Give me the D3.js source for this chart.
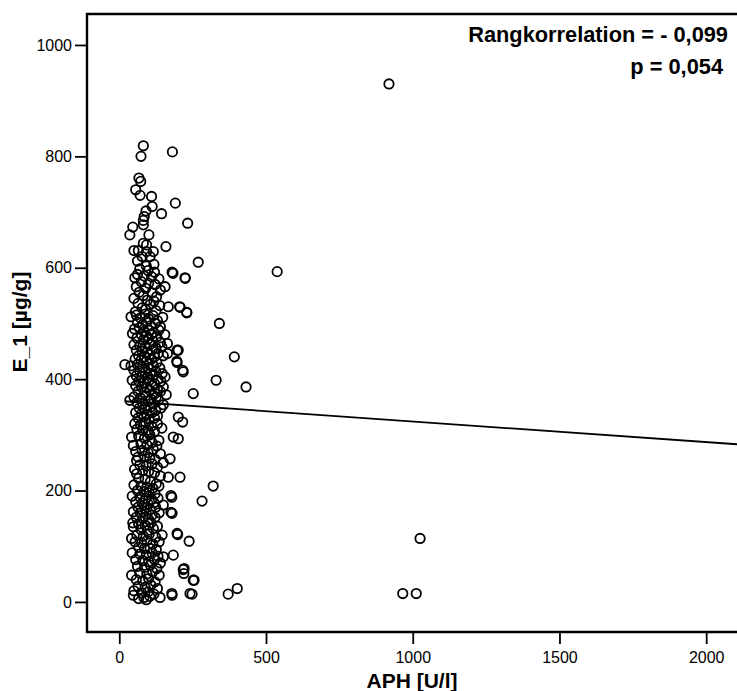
<!DOCTYPE html>
<html>
<head>
<meta charset="utf-8">
<script src="https://cdn.jsdelivr.net/npm/d3@7/dist/d3.min.js"></script>
<style>
  body { margin: 0; background: #fff; }
  svg { display: block; font-family: "Liberation Sans", Arial, sans-serif; }
</style>
</head>
<body>
<svg class="chart" width="737" height="691"></svg>
<script>
// APH [U/l] vs E_1 [µg/g], grouped by height band
var upperBand = [
  [82,819],[74,800],[181,808],[67,761],[73,755],[56,740],[71,730],[110,728],[191,716],[112,710],
  [91,702],[144,697],[85,692],[82,685],[233,680],[46,673],[82,677],[36,659],[101,659],[82,644],
  [159,638],[93,641],[50,631],[65,631],[93,629],[116,629],[78,620],[105,620],[269,610],[62,612],
  [118,606],[92,603]
];
var band520 = [
  [180,592],[224,582],[53,582],[156,566],[167,530],[207,529],[230,520],
  [70,598],[98,595],[120,592],[62,588],[85,585],[110,584],[135,580],[75,575],[100,572],[122,570],
  [58,566],[90,563],[140,560],[68,556],[112,555],[82,550],[127,548],[50,545],[96,542],[118,540],
  [64,536],[105,534],[138,532],[78,528],[90,525],[125,523],[55,521]
];
var coreBand = [
  [40,512],[58,515],[72,510],[88,517],[100,508],[115,514],[130,505],[148,511],[62,502],[80,498],
  [95,504],[108,496],[122,500],[140,494],[52,490],[68,492],[85,486],[102,488],[118,484],[135,488],
  [45,482],[75,480],[92,478],[110,481],[128,476],[155,480],
  [60,474],[82,470],[98,472],[115,468],[140,466],[164,464],[50,462],[70,460],[88,458],[105,462],
  [125,456],[145,458],[58,452],[78,450],[95,448],[112,452],[132,446],[201,452],[164,446],[66,442],
  [86,440],[102,444],[120,440],[150,442],
  [54,436],[74,434],[92,432],[110,436],[128,430],[196,432],[19,426],[40,424],[62,426],[80,422],
  [98,420],[116,424],[138,420],[216,416],[50,416],[70,414],[88,412],[106,410],[124,414],[146,410],
  [58,406],[78,404],[96,402],[114,406],[132,400],[156,404],[44,398],[66,396],[84,394],
  [102,398],[120,392],[142,396],[252,374],[56,388],[76,386],[94,384],[112,388],[130,382],[150,386],
  [64,378],[86,376],[104,380],[122,374],[140,378],[36,362],[50,368],[72,366],[90,370],[108,364],
  [126,368],[160,372],[60,358],[80,356],[98,360],[116,356],[134,362],[150,354],
  [68,348],[88,346],[106,350],[124,344],[142,348],[56,340],[76,338],[94,336],[112,340],[130,334],
  [64,330],[84,332],[102,328],[120,330],[201,332],[216,323]
];
var midBand = [
  [53,320],[72,318],[90,322],[110,316],[130,320],[60,310],[80,308],[97,308],[100,304],[104,300],
  [120,306],[145,312],[42,296],[66,298],[86,294],[135,290],[184,296],[201,293],[48,281],[74,284],
  [94,282],[112,286],[128,280],[56,270],[78,272],[98,268],[116,274],[140,266],[64,260],[86,262],
  [104,258],[59,254],[122,256],[173,257],[150,250],[70,246],[92,244],[112,248],[130,242],[52,238],
  [80,236],[100,234],[59,230],[120,232],[167,224],[207,224],[66,222],[88,220],[140,226]
];
var lowerBand = [
  [106,216],[126,212],[50,210],[74,208],[94,206],[114,204],[135,208],[62,200],[84,198],[102,196],
  [122,194],[176,191],[179,188],[44,190],[70,188],[90,186],[110,184],[132,186],[56,180],[78,178],
  [98,176],[118,178],[150,174],[64,170],[86,168],[106,166],[124,170],[48,162],[72,160],[176,161],
  [92,158],[112,156],[136,160],[58,152],[80,150],[100,148],[122,152],
  [46,142],[66,140],[88,138],[108,142],[130,136],[48,135],[74,130],[96,128],[116,132],[199,121],
  [42,114],[60,120],[82,118],[102,122],[124,116],[146,120],[238,109],[54,108],[76,106],[94,110],
  [114,104],[136,108],[66,98],[86,96],[105,96],[126,94],
  [44,88],[70,86],[92,84],[150,81],[184,84],[112,88],[132,82],[56,76],[80,74],[100,72],
  [120,76],[140,70],[62,64],[86,62],[106,66],[128,60],[218,58],[220,51],[42,48],[70,52],
  [94,50],[114,54],[136,48],[252,39],[58,40],[80,38],[100,42],[122,36],[64,28],[88,26],
  [108,30],[130,24],[50,20],[76,16],[98,18],[118,14],[179,15],[241,15],[48,12],[84,8],
  [104,10],[139,8],[66,6],[92,4]
];
var outliers = [
  [919,930],[538,593],[183,590],[225,581],[206,530],[230,519],[341,500],[392,440],[330,398],[432,386],
  [197,452],[197,430],[218,413],[282,181],[320,208],[180,159],[197,123],[221,60],[255,39],[248,14],
  [180,12],[402,24],[371,14],[966,15],[1012,15],[1025,114]
];

var xTicks = [0, 500, 1000, 1500, 2000];
var yTicks = [0, 200, 400, 600, 800, 1000];
var fitIntercept = 361, fitSlope = -0.037, fitFrom = 19, fitTo = 2105;
var statLines = ["Rangkorrelation = - 0,099", "p = 0,054"];

var svg = d3.select(".chart"),
  plotLeft = 87, plotTop = 14, plotRight = 737, plotBottom = 632;

var x = d3.scaleLinear().domain([-110, 2105]).range([plotLeft, plotRight]);
var y = d3.scaleLinear().domain([-54, 1055.6]).range([plotBottom, plotTop]);

var points = upperBand.concat(band520, coreBand, midBand, lowerBand, outliers);

// frame (right side runs off the picture)
svg.append("path")
  .attr("d", "M" + (plotRight + 5) + "," + plotTop + "H" + plotLeft + "V" + plotBottom + "H" + (plotRight + 5))
  .attr("fill", "none")
  .attr("stroke", "#000")
  .attr("stroke-width", 2.4);

var yAxis = svg.append("g")
  .attr("transform", "translate(" + (plotLeft - 1) + ",0)")
  .call(d3.axisLeft(y).tickValues(yTicks).tickSize(11).tickPadding(3).tickFormat(d3.format("d")));

var xAxis = svg.append("g")
  .attr("transform", "translate(0," + (plotBottom + 1) + ")")
  .call(d3.axisBottom(x).tickValues(xTicks).tickSize(11).tickPadding(8).tickFormat(d3.format("d")));

[xAxis, yAxis].forEach(function (a) {
  a.select(".domain").remove();
  a.selectAll(".tick line").attr("stroke", "#000").attr("stroke-width", 1.8);
  a.selectAll(".tick text")
    .attr("fill", "#000")
    .attr("font-size", 16)
    .attr("font-family", "'Liberation Sans', Arial, sans-serif");
});

// fit line
svg.append("line")
  .attr("x1", x(fitFrom))
  .attr("y1", y(fitIntercept + fitSlope * fitFrom))
  .attr("x2", x(fitTo))
  .attr("y2", y(fitIntercept + fitSlope * fitTo))
  .attr("stroke", "#000")
  .attr("stroke-width", 1.8);

svg.append("g")
  .selectAll("circle")
  .data(points)
  .enter()
  .append("circle")
  .attr("cx", function (d) { return x(d[0]); })
  .attr("cy", function (d) { return y(d[1]); })
  .attr("r", 4.7)
  .attr("fill", "none")
  .attr("stroke", "#000")
  .attr("stroke-width", 1.8);

svg.append("text")
  .attr("x", 412)
  .attr("y", 688)
  .attr("text-anchor", "middle")
  .attr("font-weight", "bold")
  .attr("font-size", 21)
  .text("APH [U/l]");

svg.append("text")
  .attr("transform", "translate(27,322) rotate(-90)")
  .attr("text-anchor", "middle")
  .attr("font-weight", "bold")
  .attr("font-size", 21)
  .text("E_1 [µg/g]");

svg.append("g")
  .attr("font-weight", "bold")
  .attr("font-size", 21.8)
  .attr("text-anchor", "end")
  .selectAll("text")
  .data(statLines)
  .enter()
  .append("text")
  .attr("x", function (d, i) { return i === 0 ? 728 : 723; })
  .attr("y", function (d, i) { return 42 + i * 32; })
  .text(function (d) { return d; });
</script>
</body>
</html>
